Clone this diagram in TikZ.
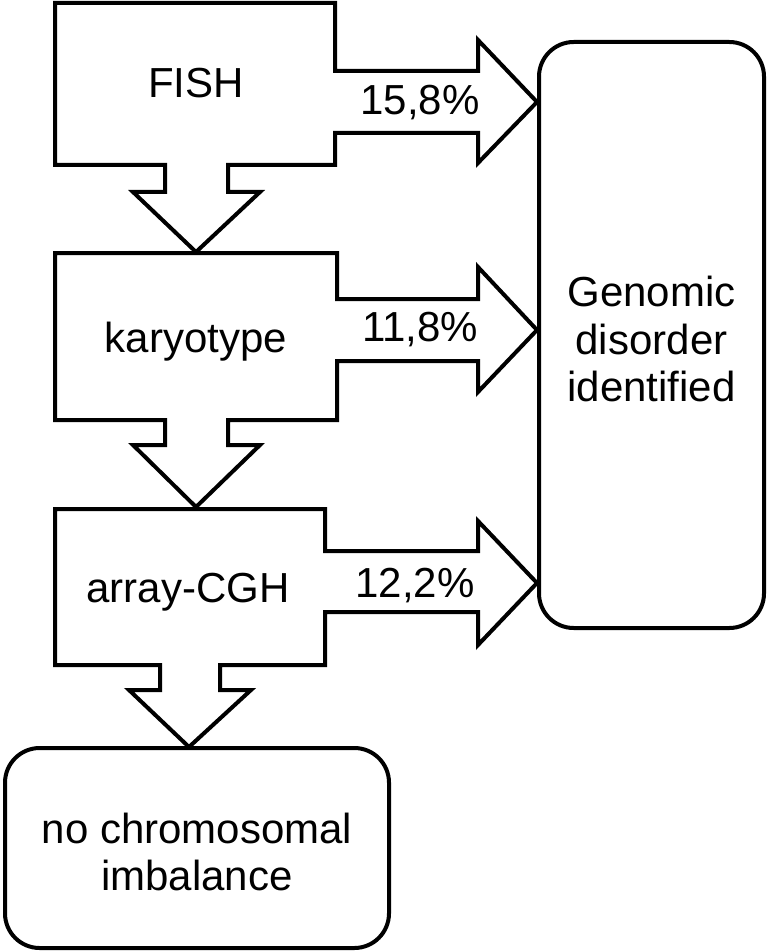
\documentclass[tikz,border=0pt]{standalone}
\usepackage{fontspec}
\setmainfont{Liberation Sans}
\begin{document}
\begin{tikzpicture}[x=0.75pt,y=-0.75pt,
  shapeline/.style={draw=black,line width=3pt,line join=miter},
  lbl/.style={font=\fontsize{31.5}{35}\selectfont,inner sep=0pt,anchor=base},
  endbox/.style={draw=black,line width=3pt,rounded corners=26pt},
  endtext/.style={font=\fontsize{31.5}{35.5}\selectfont,align=center,inner sep=0pt}]
\useasboundingbox (0,0) rectangle (767,952);
% process 1 (FISH)
\draw[shapeline] (55,3) -- (335,3) -- (335,71) -- (478,71) -- (478,40) -- (537,102)
  -- (478,163) -- (478,133) -- (335,133) -- (335,165) -- (228,165) -- (228,192)
  -- (260,192) -- (196,252) -- (133,192) -- (165,192) -- (165,165) -- (55,165) -- cycle;
% process 2 (karyotype)
\draw[shapeline] (55,253) -- (337,253) -- (337,299) -- (478,299) -- (478,267) -- (537,330)
  -- (478,392) -- (478,361) -- (337,361) -- (337,420) -- (228,420) -- (228,445)
  -- (260,445) -- (196,507) -- (133,445) -- (165,445) -- (165,420) -- (55,420) -- cycle;
% process 3 (array-CGH)
\draw[shapeline] (55,509) -- (325,509) -- (325,551) -- (478,551) -- (478,521) -- (537,583)
  -- (478,645) -- (478,612) -- (325,612) -- (325,665) -- (220,665) -- (220,690)
  -- (251,690) -- (189,747) -- (129,690) -- (160,690) -- (160,665) -- (55,665) -- cycle;
% end boxes
\draw[endbox] (539,42) rectangle (764,628);
\draw[endbox] (5,748) rectangle (389,948);
% labels
\node[lbl] (fish) at (196,98) {FISH};
\node[lbl] (p1) at (420,115) {15,8\%};
\node[lbl] (karyo) at (196,352) {karyotype};
\node[lbl] (p2) at (420,341) {11,8\%};
\node[lbl] (cgh) at (188,602) {array-CGH};
\node[lbl] (p3) at (415,597) {12,2\%};
\node[endtext] (gen) at (651.5,339) {Genomic\\disorder\\identified};
\node[endtext] (none) at (197,852) {no chromosomal\\imbalance};
\end{tikzpicture}
\end{document}
